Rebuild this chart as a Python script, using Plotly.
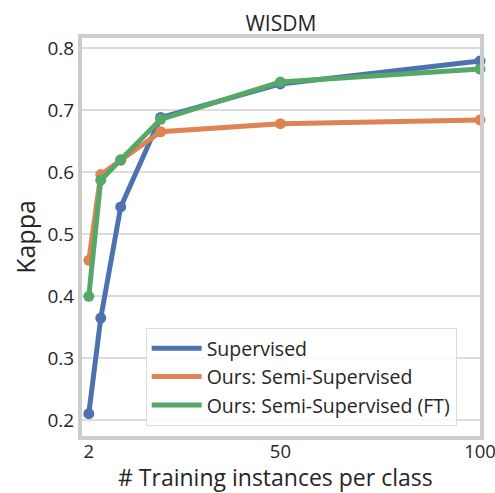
import plotly.graph_objects as go

x_vals = [2, 5, 10, 20, 50, 100]
supervised = [0.211, 0.365, 0.544, 0.688, 0.742, 0.779]
semi = [0.458, 0.596, 0.619, 0.665, 0.678, 0.684]
semi_ft = [0.400, 0.587, 0.620, 0.685, 0.745, 0.766]
names = ["Supervised", "Ours: Semi-Supervised", "Ours: Semi-Supervised (FT)"]
colors = ["#4c72b0", "#dd8452", "#55a868"]
x_ticks = [2, 50, 100]
y_ticks = [0.2, 0.3, 0.4, 0.5, 0.6, 0.7, 0.8]

FONT = "Open Sans"
TXT = "#262626"
fig = go.Figure()
for ys, name, c in zip([supervised, semi, semi_ft], names, colors):
    fig.add_trace(go.Scatter(x=x_vals, y=ys, mode="lines+markers", name=name,
                             line=dict(color=c, width=5), marker=dict(color=c, size=11),
                             showlegend=False, cliponaxis=False))
for name, c in zip(names, colors):
    fig.add_trace(go.Scatter(x=[None], y=[None], mode="lines", name=name,
                             line=dict(color=c, width=5)))

fig.update_layout(
    width=495, height=493,
    margin=dict(l=82, r=15, t=38, b=57, autoexpand=False),
    paper_bgcolor="white", plot_bgcolor="white",
    font=dict(family=FONT, color=TXT),
    title=dict(text="WISDM", x=0.5674, xanchor="center", y=0.952, yanchor="middle",
               font=dict(size=21, family=FONT, color=TXT)),
    showlegend=True,
    legend=dict(x=0.16, y=0.025, xanchor="left", yanchor="bottom",
                bgcolor="rgba(255,255,255,0.85)", bordercolor="#dddddd", borderwidth=1,
                font=dict(size=19.5, family=FONT, color=TXT), itemwidth=50,
                tracegroupgap=0),
    xaxis=dict(range=[0.3, 100], tickvals=x_ticks, ticktext=[str(t) for t in x_ticks],
               showgrid=False, zeroline=False, showline=True, mirror=True,
               linecolor="#cccccc", linewidth=4, ticks="outside", ticklen=1,
               tickcolor="rgba(0,0,0,0)", automargin=False,
               ticklabeloverflow="allow", ticklabelstandoff=-5,
               tickfont=dict(size=18.5, family=FONT, color=TXT)),
    yaxis=dict(range=[0.175, 0.816], tickvals=y_ticks, ticktext=[f"{t:.1f}" for t in y_ticks],
               showgrid=True, gridcolor="#dcdcdc", gridwidth=1.5, zeroline=False,
               showline=True, mirror=True, linecolor="#cccccc", linewidth=4, ticks="",
               automargin=False,
               tickfont=dict(size=19, family=FONT, color=TXT),
               title=dict(text="Kappa", standoff=6,
                          font=dict(size=25, family=FONT, color=TXT))),
    annotations=[dict(text="# Training instances per class", xref="paper", yref="paper",
                      x=0.486, y=-0.103, xanchor="center", yanchor="middle", showarrow=False,
                      font=dict(size=23, family=FONT, color=TXT))],
)
fig.write_html("out.html")
